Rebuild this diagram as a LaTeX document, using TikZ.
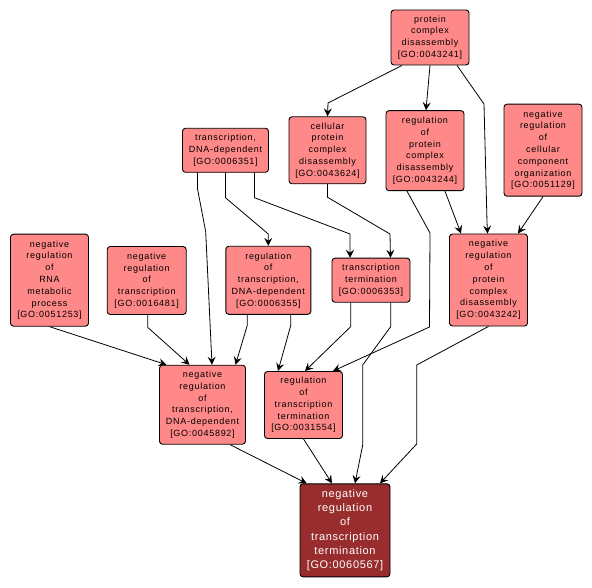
\documentclass[tikz,border=0pt]{standalone}
\usepackage{fontspec}
\setmainfont{Liberation Sans}
\newfontfamily\gofont[LetterSpace=8]{Liberation Sans}
\newfontfamily\gofontb[LetterSpace=6]{Liberation Sans}
\usepackage{tikz}
\usetikzlibrary{arrows.meta}
\definecolor{golight}{RGB}{255,136,136}
\definecolor{godark}{RGB}{153,45,45}

\begin{document}
\begin{tikzpicture}[x=1pt,y=-1pt,
  box/.style={draw,rounded corners=3pt,fill=golight,align=center,inner sep=0pt,
    line width=0.9pt,font=\gofont\fontsize{9}{11.8}\selectfont},
  leaf/.style={box,fill=godark,text=white,font=\gofontb\fontsize{11}{14.3}\selectfont},
  link/.style={-{Stealth[length=8pt,width=8pt,inset=3pt]},line width=0.8pt}]
\useasboundingbox (0,0) rectangle (592,588);
\node[box,minimum width=78pt,minimum height=55pt] (pcd) at (430,37.5)
  {protein\\complex\\disassembly\\{[GO:0043241]}};
\node[box,minimum width=77pt,minimum height=67pt] (cpcd) at (327.5,150.3)
  {cellular\\protein\\complex\\disassembly\\{[GO:0043624]}};
\node[box,minimum width=78pt,minimum height=80pt] (rpcd) at (425,150.7)
  {regulation\\of\\protein\\complex\\disassembly\\{[GO:0043244]}};
\node[box,minimum width=78pt,minimum height=92pt] (nrcco) at (543,150.2)
  {negative\\regulation\\of\\cellular\\component\\organization\\{[GO:0051129]}};
\node[box,minimum width=86pt,minimum height=44pt] (tdd) at (225.5,150.3)
  {transcription,\\DNA-dependent\\{[GO:0006351]}};
\node[box,minimum width=85pt,minimum height=68pt] (rtdd) at (268.3,280.3)
  {regulation\\of\\transcription,\\DNA-dependent\\{[GO:0006355]}};
\node[box,minimum width=78pt,minimum height=44pt] (tterm) at (371,280.2)
  {transcription\\termination\\{[GO:0006353]}};
\node[box,minimum width=78pt,minimum height=92pt] (nrrna) at (49.5,280.2)
  {negative\\regulation\\of\\RNA\\metabolic\\process\\{[GO:0051253]}};
\node[box,minimum width=79pt,minimum height=68pt] (nrt) at (146.7,280.5)
  {negative\\regulation\\of\\transcription\\{[GO:0016481]}};
\node[box,minimum width=78pt,minimum height=92pt] (nrpcd) at (488.5,280)
  {negative\\regulation\\of\\protein\\complex\\disassembly\\{[GO:0043242]}};
\node[box,minimum width=86pt,minimum height=79pt] (nrtdd) at (202.5,404.7)
  {negative\\regulation\\of\\transcription,\\DNA-dependent\\{[GO:0045892]}};
\node[box,minimum width=78pt,minimum height=67pt] (rtt) at (303.5,405)
  {regulation\\of\\transcription\\termination\\{[GO:0031554]}};
\node[leaf,minimum width=90pt,minimum height=93pt] (nrtt) at (345,530.3)
  {negative\\regulation\\of\\transcription\\termination\\{[GO:0060567]}};
\draw[link] ([xshift=-28pt]pcd.south) -- (328,103) -- (cpcd.north);
\draw[link] (pcd.south) -- ([xshift=1pt]rpcd.north);
\draw[link] ([xshift=27pt]pcd.south) -- (484,104) -- (487,222) -- ([xshift=-1pt]nrpcd.north);
\draw[link] ([xshift=20pt]rpcd.south) -- ([xshift=-27.5pt]nrpcd.north);
\draw[link] (nrcco.south) -- ([xshift=29.5pt]nrpcd.north);
\draw[link] ([xshift=-18pt]rpcd.south) -- (430,233) -- (429.5,327) -- ([xshift=29.5pt]rtt.north);
\draw[link] (cpcd.south) -- ++(0,13) -- (390,234) -- ([xshift=19.5pt]tterm.north);
\draw[link] ([xshift=-28pt]tdd.south) -- ++(0,16) -- (205.7,231.7) -- ([xshift=9.5pt]nrtdd.north);
\draw[link] (tdd.south) -- ++(0,25) -- (268.3,234) -- (rtdd.north);
\draw[link] ([xshift=29pt]tdd.south) -- ++(0,25) -- (350,234) -- ([xshift=-21pt]tterm.north);
\draw[link] ([xshift=-21pt]rtdd.south) -- ++(0,10.5) -- ([xshift=33pt]nrtdd.north);
\draw[link] ([xshift=22.5pt]rtdd.south) -- ++(0,10.5) -- ([xshift=-25.5pt]rtt.north);
\draw[link] ([xshift=-20.3pt]tterm.south) -- ++(0,24) -- ([xshift=1.5pt]rtt.north);
\draw[link] ([xshift=19.7pt]tterm.south) -- ++(0,24) -- (362.7,365) -- (362.7,445) -- ([xshift=10pt]nrtt.north);
\draw[link] (nrpcd.south) -- (416.7,365) -- (416.7,444) -- ([xshift=35pt]nrtt.north);
\draw[link] ([xshift=27.5pt]nrtdd.south) -- ([xshift=-38.3pt]nrtt.north);
\draw[link] (rtt.south) -- ([xshift=-13pt]nrtt.north);
\draw[link] (nrrna.south) -- ([xshift=-36pt]nrtdd.north);
\draw[link] ([xshift=1pt]nrt.south) -- ++(0,12.4) -- ([xshift=-13pt]nrtdd.north);
\end{tikzpicture}
\end{document}
